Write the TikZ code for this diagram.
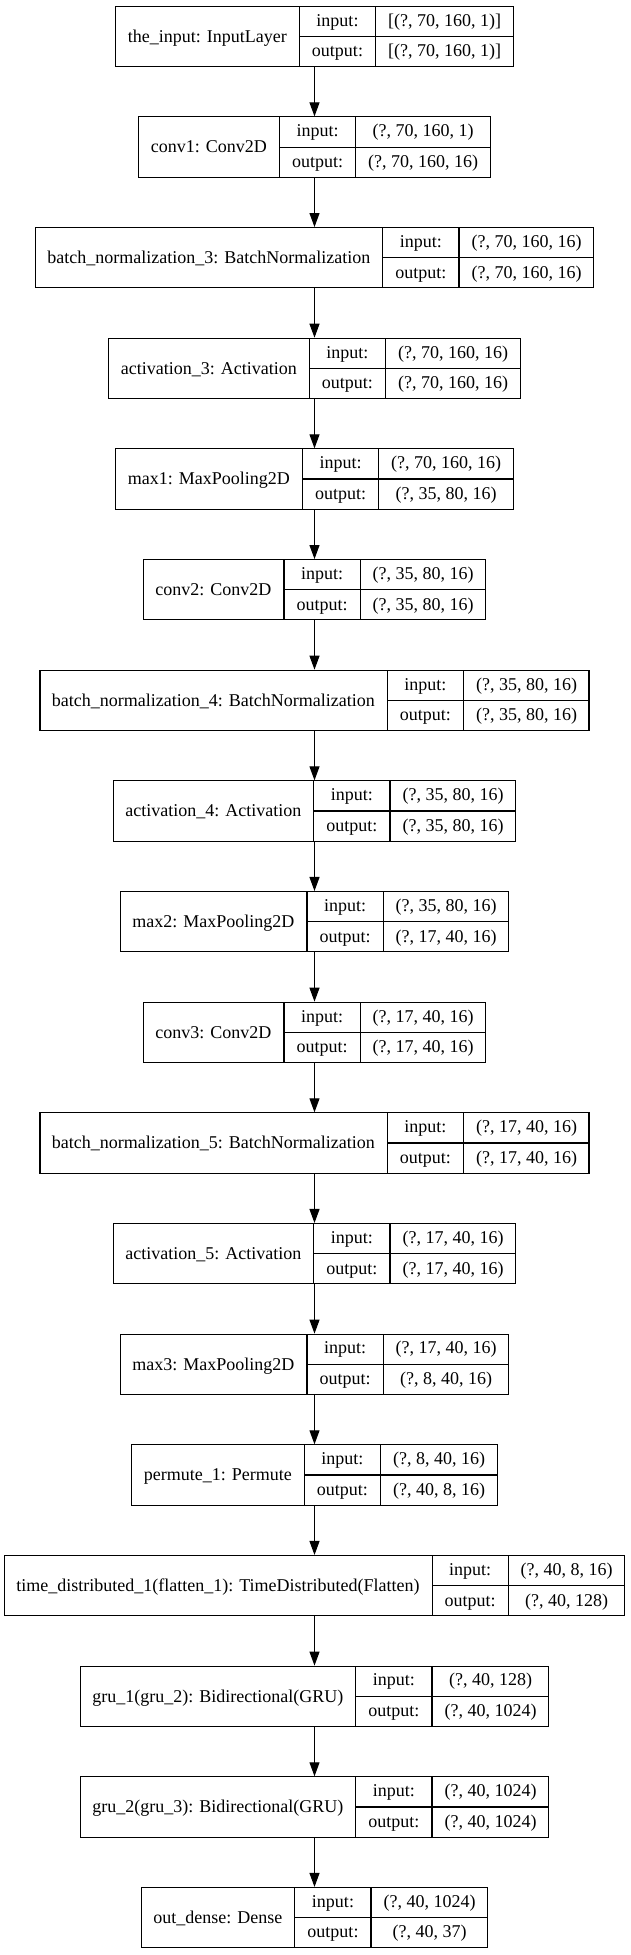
\documentclass[tikz,border=0pt]{standalone}
\usepackage{fontspec}
\setmainfont{Liberation Serif}
\usepackage{array}
\usetikzlibrary{arrows.meta,positioning}

\setlength{\arrayrulewidth}{1.1pt}
\newcommand{\rowstrut}{\rule[-9.8pt]{0pt}{29.6pt}}
% one keras layer: name | input:/output: | shapes
\newcommand{\layerrec}[3]{%
  \begin{tabular}{@{\hspace{12pt}}c@{\hspace{12pt}}|@{}c@{}}
    \raisebox{-1.5pt}{#1} &
    \begin{tabular}{@{\hspace{12pt}}c@{\hspace{12pt}}|@{\hspace{12pt}}c@{\hspace{12pt}}}
      \rowstrut input: & #2 \\ \hline
      \rowstrut output: & #3
    \end{tabular}
  \end{tabular}}

\begin{document}
\begin{tikzpicture}[x=1pt,y=1pt,>={Triangle[length=14pt,width=10pt]},node distance=49.26pt,
    layer/.style={draw,line width=1.1pt,inner sep=0pt,font=\fontsize{18}{21.6}\selectfont}]
		\useasboundingbox (0,0) rectangle (631,-1955);
		\node[layer] (n_0) at (314.5,-36.4) {\layerrec{the\_input: InputLayer}{[(?, 70, 160, 1)]}{[(?, 70, 160, 1)]}};
		\node[layer] [below=of n_0] (n_1) {\layerrec{conv1: Conv2D}{(?, 70, 160, 1)}{(?, 70, 160, 16)}};
		\node[layer] [below=of n_1] (n_2) {\layerrec{batch\_normalization\_3: BatchNormalization}{(?, 70, 160, 16)}{(?, 70, 160, 16)}};
		\node[layer] [below=of n_2] (n_3) {\layerrec{activation\_3: Activation}{(?, 70, 160, 16)}{(?, 70, 160, 16)}};
		\node[layer] [below=of n_3] (n_4) {\layerrec{max1: MaxPooling2D}{(?, 70, 160, 16)}{(?, 35, 80, 16)}};
		\node[layer] [below=of n_4] (n_5) {\layerrec{conv2: Conv2D}{(?, 35, 80, 16)}{(?, 35, 80, 16)}};
		\node[layer] [below=of n_5] (n_6) {\layerrec{batch\_normalization\_4: BatchNormalization}{(?, 35, 80, 16)}{(?, 35, 80, 16)}};
		\node[layer] [below=of n_6] (n_7) {\layerrec{activation\_4: Activation}{(?, 35, 80, 16)}{(?, 35, 80, 16)}};
		\node[layer] [below=of n_7] (n_8) {\layerrec{max2: MaxPooling2D}{(?, 35, 80, 16)}{(?, 17, 40, 16)}};
		\node[layer] [below=of n_8] (n_9) {\layerrec{conv3: Conv2D}{(?, 17, 40, 16)}{(?, 17, 40, 16)}};
		\node[layer] [below=of n_9] (n_10) {\layerrec{batch\_normalization\_5: BatchNormalization}{(?, 17, 40, 16)}{(?, 17, 40, 16)}};
		\node[layer] [below=of n_10] (n_11) {\layerrec{activation\_5: Activation}{(?, 17, 40, 16)}{(?, 17, 40, 16)}};
		\node[layer] [below=of n_11] (n_12) {\layerrec{max3: MaxPooling2D}{(?, 17, 40, 16)}{(?, 8, 40, 16)}};
		\node[layer] [below=of n_12] (n_13) {\layerrec{permute\_1: Permute}{(?, 8, 40, 16)}{(?, 40, 8, 16)}};
		\node[layer] [below=of n_13] (n_14) {\layerrec{time\_distributed\_1(flatten\_1): TimeDistributed(Flatten)}{(?, 40, 8, 16)}{(?, 40, 128)}};
		\node[layer] [below=of n_14] (n_15) {\layerrec{gru\_1(gru\_2): Bidirectional(GRU)}{(?, 40, 128)}{(?, 40, 1024)}};
		\node[layer] [below=of n_15] (n_16) {\layerrec{gru\_2(gru\_3): Bidirectional(GRU)}{(?, 40, 1024)}{(?, 40, 1024)}};
		\node[layer] [below=of n_16] (n_17) {\layerrec{out\_dense: Dense}{(?, 40, 1024)}{(?, 40, 37)}};
		\path[->,line width=1.1pt]
			(n_0) edge (n_1)
			(n_1) edge (n_2)
			(n_2) edge (n_3)
			(n_3) edge (n_4)
			(n_4) edge (n_5)
			(n_5) edge (n_6)
			(n_6) edge (n_7)
			(n_7) edge (n_8)
			(n_8) edge (n_9)
			(n_9) edge (n_10)
			(n_10) edge (n_11)
			(n_11) edge (n_12)
			(n_12) edge (n_13)
			(n_13) edge (n_14)
			(n_14) edge (n_15)
			(n_15) edge (n_16)
			(n_16) edge (n_17);
	\end{tikzpicture}
\end{document}
